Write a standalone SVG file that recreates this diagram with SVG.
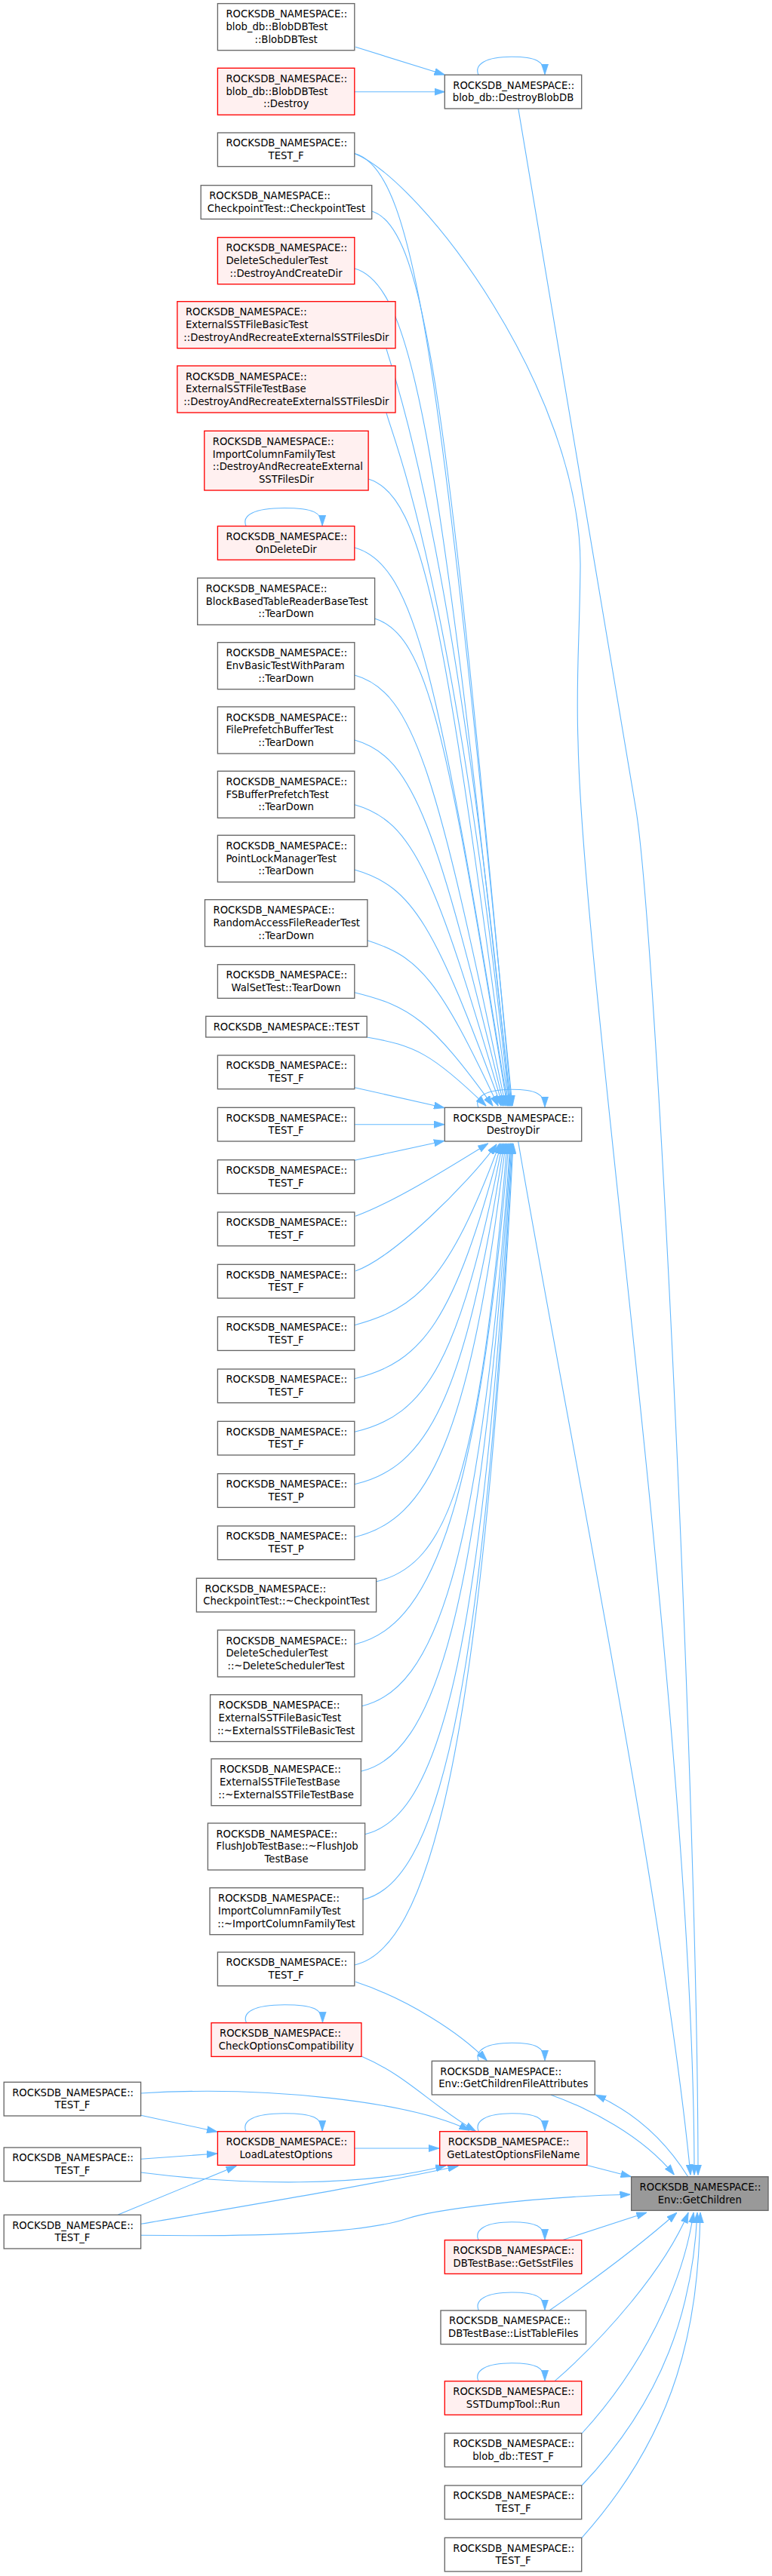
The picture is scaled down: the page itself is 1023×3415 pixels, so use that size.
<svg xmlns="http://www.w3.org/2000/svg" width="1023" height="3415" viewBox="0 0 1023 3415">
<style>
.n rect{fill:#fff;stroke:#666;stroke-width:1.33}
.r rect{fill:#fff0f0;stroke:#f00;stroke-width:1.33}
.g rect{fill:#999;stroke:#666;stroke-width:1.33}
text{font-family:"DejaVu Sans","Liberation Sans",sans-serif;font-size:13.2px;fill:#000}
.m{text-anchor:middle}
#edges path{fill:none;stroke:#63b8ff;stroke-width:1.1;marker-end:url(#a)}
</style>
<defs>
<marker id="a" viewBox="0 0 14 10" refX="13.5" refY="5" markerWidth="14" markerHeight="10" markerUnits="userSpaceOnUse" orient="auto"><path d="M0,0.4 L14,5 L0,9.6 Z" fill="#63b8ff" stroke="#63b8ff" stroke-width="0.8"/></marker>
</defs>
<rect width="1023" height="3415" fill="#fff"/>
<g id="edges">
<path d="M471,62.3 L589,99"/>
<path d="M469.8,121.7 L589,121.7"/>
<path d="M634,99.3 C628,85.3 644,75.3 678,75.3 C710,75.3 722,81.3 722,98.3"/>
<path d="M686.7,143.3 L842.7,1073 C870,1240 925,2400 925,2883"/>
<path d="M469.8,203.5 C560,240 770,520 769,750 C768,850 763,900 766,983 C772,1300 920,2300 920,2883"/>
<path d="M469.8,203.5 C553.5,225.5 584.9,506.5 679,1466"/>
<path d="M492.7,280 C566.8,302 594.6,564.6 678,1466"/>
<path d="M469.8,356 C552.7,378 583.8,622.4 677,1466"/>
<path d="M512,462.3 C522,500 602,703 676,1466"/>
<path d="M512,547.3 C522,585 601.7,767.8 675,1466"/>
<path d="M488.1,635 C562.5,657 590.3,834.4 674,1466"/>
<path d="M469.8,726 C551.1,748 581.6,903.6 673,1466"/>
<path d="M496.6,820 C566.8,842 593.1,975 672,1466"/>
<path d="M469.8,895 C549.9,917 579.9,1032 670,1466"/>
<path d="M469.8,981 C549.1,1003 578.8,1097.4 668,1466"/>
<path d="M469.8,1066.7 C548.3,1088.7 577.7,1162.5 666,1466"/>
<path d="M469.8,1153 C547.5,1175 576.6,1228 664,1466"/>
<path d="M486.9,1246.7 C556.1,1268.7 582.1,1299.3 660,1466"/>
<path d="M469.8,1315.7 C543.1,1333.7 570.6,1351.8 653,1466"/>
<path d="M486.2,1375 C549.3,1385.9 573,1396.8 644,1466"/>
<path d="M469.8,1441.7 L588.5,1468.5"/>
<path d="M469.8,1490.7 L588.5,1490.7"/>
<path d="M469.8,1538.3 L588.5,1512.5"/>
<path d="M471,1612.3 C521,1594 591.7,1550 646.7,1516"/>
<path d="M471,1685 C520,1668 620,1570 658,1517"/>
<path d="M469.8,1756.7 C551.6,1734.7 594.7,1698.9 662,1516"/>
<path d="M469.8,1827.7 C559.3,1805.7 601.8,1752.9 664,1516"/>
<path d="M469.8,1898.3 C564.8,1876.3 608.9,1806.5 666,1516"/>
<path d="M469.8,1967.7 C564.8,1945.7 616.1,1859.3 668,1516"/>
<path d="M469.8,2037.7 C564.8,2015.7 623.4,1912.5 670,1516"/>
<path d="M498.6,2096.7 C593.6,2074.7 635.9,1957.3 672,1516"/>
<path d="M469.8,2180 C564.8,2158 633.2,2020.6 674,1516"/>
<path d="M479.6,2261.7 C574.6,2239.7 636.7,2082.7 676,1516"/>
<path d="M478.3,2348.3 C573.3,2326.3 637.3,2148.5 677,1516"/>
<path d="M483.6,2431.7 C578.6,2409.7 639.1,2211.9 678,1516"/>
<path d="M481,2518.3 C576,2496.3 639.4,2277.7 679,1516"/>
<path d="M469.8,2605 C564.8,2583 638,2343.6 680,1516"/>
<path d="M634,1468.3 C628,1454.3 644,1444.3 678,1444.3 C710,1444.3 722,1450.3 722,1467.3"/>
<path d="M686.7,1513.3 C740,1830 880,2520 915,2883"/>
<path d="M326.1,697.5 C320,683.5 336,673.5 376.6,673.5 C415,673.5 427.1,679.5 427.1,696.5"/>
<path d="M326.5,2681.7 C320.5,2667.7 336.5,2657.7 377,2657.7 C415.5,2657.7 427.5,2663.7 427.5,2680.7"/>
<path d="M326.1,2825.7 C320,2811.7 336,2801.7 376.6,2801.7 C415,2801.7 427.1,2807.7 427.1,2824.7"/>
<path d="M634.3,2732.3 C628.3,2718.3 644.3,2708.3 678.3,2708.3 C710,2708.3 722,2714.3 722,2731.3"/>
<path d="M634.3,2825.7 C628.3,2811.7 644.3,2801.7 678.3,2801.7 C710,2801.7 722,2807.7 722,2824.7"/>
<path d="M634,2969.7 C628,2955.7 644,2945.7 678,2945.7 C710,2945.7 722,2951.7 722,2968.7"/>
<path d="M634.3,3063 C628.3,3049 644.3,3039 678.3,3039 C710,3039 722,3045 722,3062"/>
<path d="M634,3156.7 C628,3142.7 644,3132.7 678,3132.7 C710,3132.7 722,3138.7 722,3155.7"/>
<path d="M471,2627.3 C540,2650 610,2695 645,2731.5"/>
<path d="M478.9,2726 C540,2752 570,2790 630,2825"/>
<path d="M186.6,2775 C350,2765 540,2785 622,2824"/>
<path d="M186.6,2804.3 L287.5,2826"/>
<path d="M186.6,2862.3 L287.5,2855"/>
<path d="M156.6,2936 L313,2871.5"/>
<path d="M186.6,2880 C320,2897 480,2900 590.6,2871"/>
<path d="M186.6,2948.3 C350,2920 500,2895 607,2871.5"/>
<path d="M469.8,2848 L581.5,2848"/>
<path d="M730,2777.3 C780,2795 850,2830 893.3,2883"/>
<path d="M911.7,2885.7 C880,2835 840,2800 789.3,2777.3"/>
<path d="M777.9,2870.5 L836,2885.5"/>
<path d="M186.6,2963.3 C380,2966 490,2958 540,2941 C570,2930.8 700,2912 835,2909.3"/>
<path d="M745,2969.7 L856.7,2933.3"/>
<path d="M728,3063 C790,3020 850,2975 896.7,2933.5"/>
<path d="M735,3156.7 C800,3100 880,3010 912,2933.5"/>
<path d="M771,3226 C850,3140 905,3030 919,2933.5"/>
<path d="M771,3295 C880,3180 918,3060 924,2933.5"/>
<path d="M771,3364.3 C900,3220 925,3080 928,2933.5"/>
</g>
<g id="n1" class="n"><rect x="288.4" y="4.7" width="181.4" height="62"/><text x="299.4" y="23.4">ROCKSDB_NAMESPACE::</text><text x="299.4" y="40.1">blob_db::BlobDBTest</text><text class="m" x="379.1" y="56.8">::BlobDBTest</text></g>
<g id="n2" class="r"><rect x="288.4" y="90.3" width="181.4" height="62"/><text x="299.4" y="109">ROCKSDB_NAMESPACE::</text><text x="299.4" y="125.7">blob_db::BlobDBTest</text><text class="m" x="379.1" y="142.4">::Destroy</text></g>
<g id="n3" class="n"><rect x="288.4" y="176" width="181.4" height="44.7"/><text x="299.4" y="194.4">ROCKSDB_NAMESPACE::</text><text class="m" x="379.1" y="211.1">TEST_F</text></g>
<g id="n4" class="n"><rect x="266.2" y="245.7" width="226.5" height="44.7"/><text x="277.2" y="264.1">ROCKSDB_NAMESPACE::</text><text class="m" x="379.45" y="280.8">CheckpointTest::CheckpointTest</text></g>
<g id="n5" class="r"><rect x="288.4" y="314.7" width="181.4" height="62"/><text x="299.4" y="333.4">ROCKSDB_NAMESPACE::</text><text x="299.4" y="350.1">DeleteSchedulerTest</text><text class="m" x="379.1" y="366.8">::DestroyAndCreateDir</text></g>
<g id="n6" class="r"><rect x="234.9" y="399.7" width="289.1" height="62"/><text x="245.9" y="418.4">ROCKSDB_NAMESPACE::</text><text x="245.9" y="435.1">ExternalSSTFileBasicTest</text><text class="m" x="379.45" y="451.8">::DestroyAndRecreateExternalSSTFilesDir</text></g>
<g id="n7" class="r"><rect x="234.9" y="485" width="289.1" height="62"/><text x="245.9" y="503.7">ROCKSDB_NAMESPACE::</text><text x="245.9" y="520.4">ExternalSSTFileTestBase</text><text class="m" x="379.45" y="537.1">::DestroyAndRecreateExternalSSTFilesDir</text></g>
<g id="n8" class="r"><rect x="270.8" y="571.3" width="217.3" height="78.7"/><text x="281.8" y="590">ROCKSDB_NAMESPACE::</text><text x="281.8" y="606.7">ImportColumnFamilyTest</text><text x="281.8" y="623.4">::DestroyAndRecreateExternal</text><text class="m" x="379.45" y="640.1">SSTFilesDir</text></g>
<g id="n9" class="r"><rect x="288.4" y="697.5" width="181.4" height="44.7"/><text x="299.4" y="715.9">ROCKSDB_NAMESPACE::</text><text class="m" x="379.1" y="732.6">OnDeleteDir</text></g>
<g id="n10" class="n"><rect x="261.7" y="766.3" width="234.9" height="62"/><text x="272.7" y="785">ROCKSDB_NAMESPACE::</text><text x="272.7" y="801.7">BlockBasedTableReaderBaseTest</text><text class="m" x="379.15" y="818.4">::TearDown</text></g>
<g id="n11" class="n"><rect x="288.4" y="851.7" width="181.4" height="62"/><text x="299.4" y="870.4">ROCKSDB_NAMESPACE::</text><text x="299.4" y="887.1">EnvBasicTestWithParam</text><text class="m" x="379.1" y="903.8">::TearDown</text></g>
<g id="n12" class="n"><rect x="288.4" y="937" width="181.4" height="62"/><text x="299.4" y="955.7">ROCKSDB_NAMESPACE::</text><text x="299.4" y="972.4">FilePrefetchBufferTest</text><text class="m" x="379.1" y="989.1">::TearDown</text></g>
<g id="n13" class="n"><rect x="288.4" y="1022.3" width="181.4" height="62"/><text x="299.4" y="1041">ROCKSDB_NAMESPACE::</text><text x="299.4" y="1057.7">FSBufferPrefetchTest</text><text class="m" x="379.1" y="1074.4">::TearDown</text></g>
<g id="n14" class="n"><rect x="288.4" y="1107.3" width="181.4" height="62"/><text x="299.4" y="1126">ROCKSDB_NAMESPACE::</text><text x="299.4" y="1142.7">PointLockManagerTest</text><text class="m" x="379.1" y="1159.4">::TearDown</text></g>
<g id="n15" class="n"><rect x="271.5" y="1192.7" width="215.4" height="62"/><text x="282.5" y="1211.4">ROCKSDB_NAMESPACE::</text><text x="282.5" y="1228.1">RandomAccessFileReaderTest</text><text class="m" x="379.2" y="1244.8">::TearDown</text></g>
<g id="n16" class="n"><rect x="288.4" y="1278.7" width="181.4" height="44.7"/><text x="299.4" y="1297.1">ROCKSDB_NAMESPACE::</text><text class="m" x="379.1" y="1313.8">WalSetTest::TearDown</text></g>
<g id="n17" class="n"><rect x="272.8" y="1347.3" width="213.4" height="27.7"/><text class="m" x="379.5" y="1365.6">ROCKSDB_NAMESPACE::TEST</text></g>
<g id="n18" class="n"><rect x="288.4" y="1399" width="181.4" height="44.7"/><text x="299.4" y="1417.4">ROCKSDB_NAMESPACE::</text><text class="m" x="379.1" y="1434.1">TEST_F</text></g>
<g id="n19" class="n"><rect x="288.4" y="1468.3" width="181.4" height="44.7"/><text x="299.4" y="1486.7">ROCKSDB_NAMESPACE::</text><text class="m" x="379.1" y="1503.4">TEST_F</text></g>
<g id="n20" class="n"><rect x="288.4" y="1537.7" width="181.4" height="44.7"/><text x="299.4" y="1556.1">ROCKSDB_NAMESPACE::</text><text class="m" x="379.1" y="1572.8">TEST_F</text></g>
<g id="n21" class="n"><rect x="288.4" y="1607" width="181.4" height="44.7"/><text x="299.4" y="1625.4">ROCKSDB_NAMESPACE::</text><text class="m" x="379.1" y="1642.1">TEST_F</text></g>
<g id="n22" class="n"><rect x="288.4" y="1676.3" width="181.4" height="44.7"/><text x="299.4" y="1694.7">ROCKSDB_NAMESPACE::</text><text class="m" x="379.1" y="1711.4">TEST_F</text></g>
<g id="n23" class="n"><rect x="288.4" y="1745.7" width="181.4" height="44.7"/><text x="299.4" y="1764.1">ROCKSDB_NAMESPACE::</text><text class="m" x="379.1" y="1780.8">TEST_F</text></g>
<g id="n24" class="n"><rect x="288.4" y="1815" width="181.4" height="44.7"/><text x="299.4" y="1833.4">ROCKSDB_NAMESPACE::</text><text class="m" x="379.1" y="1850.1">TEST_F</text></g>
<g id="n25" class="n"><rect x="288.4" y="1884.3" width="181.4" height="44.7"/><text x="299.4" y="1902.7">ROCKSDB_NAMESPACE::</text><text class="m" x="379.1" y="1919.4">TEST_F</text></g>
<g id="n26" class="n"><rect x="288.4" y="1953.7" width="181.4" height="44.7"/><text x="299.4" y="1972.1">ROCKSDB_NAMESPACE::</text><text class="m" x="379.1" y="1988.8">TEST_P</text></g>
<g id="n27" class="n"><rect x="288.4" y="2023" width="181.4" height="44.7"/><text x="299.4" y="2041.4">ROCKSDB_NAMESPACE::</text><text class="m" x="379.1" y="2058.1">TEST_P</text></g>
<g id="n28" class="n"><rect x="260.4" y="2092.3" width="238.2" height="44.7"/><text x="271.4" y="2110.7">ROCKSDB_NAMESPACE::</text><text class="m" x="379.5" y="2127.4">CheckpointTest::~CheckpointTest</text></g>
<g id="n29" class="n"><rect x="288.4" y="2161" width="181.4" height="62"/><text x="299.4" y="2179.7">ROCKSDB_NAMESPACE::</text><text x="299.4" y="2196.4">DeleteSchedulerTest</text><text class="m" x="379.1" y="2213.1">::~DeleteSchedulerTest</text></g>
<g id="n30" class="n"><rect x="278.6" y="2246.7" width="201" height="62"/><text x="289.6" y="2265.4">ROCKSDB_NAMESPACE::</text><text x="289.6" y="2282.1">ExternalSSTFileBasicTest</text><text class="m" x="379.1" y="2298.8">::~ExternalSSTFileBasicTest</text></g>
<g id="n31" class="n"><rect x="280" y="2331.7" width="198.3" height="62"/><text x="291" y="2350.4">ROCKSDB_NAMESPACE::</text><text x="291" y="2367.1">ExternalSSTFileTestBase</text><text class="m" x="379.15" y="2383.8">::~ExternalSSTFileTestBase</text></g>
<g id="n32" class="n"><rect x="275.4" y="2417" width="208.2" height="62"/><text x="286.4" y="2435.7">ROCKSDB_NAMESPACE::</text><text x="286.4" y="2452.4">FlushJobTestBase::~FlushJob</text><text class="m" x="379.5" y="2469.1">TestBase</text></g>
<g id="n33" class="n"><rect x="278" y="2502.7" width="203" height="62"/><text x="289" y="2521.4">ROCKSDB_NAMESPACE::</text><text x="289" y="2538.1">ImportColumnFamilyTest</text><text class="m" x="379.5" y="2554.8">::~ImportColumnFamilyTest</text></g>
<g id="n34" class="n"><rect x="288.4" y="2588" width="181.4" height="44.7"/><text x="299.4" y="2606.4">ROCKSDB_NAMESPACE::</text><text class="m" x="379.1" y="2623.1">TEST_F</text></g>
<g id="n35" class="r"><rect x="280" y="2681.7" width="198.9" height="44.7"/><text x="291" y="2700.1">ROCKSDB_NAMESPACE::</text><text class="m" x="379.45" y="2716.8">CheckOptionsCompatibility</text></g>
<g id="n36" class="r"><rect x="288.4" y="2825.7" width="181.4" height="44.7"/><text x="299.4" y="2844.1">ROCKSDB_NAMESPACE::</text><text class="m" x="379.1" y="2860.8">LoadLatestOptions</text></g>
<g id="a1" class="n"><rect x="5.2" y="2760.3" width="181.4" height="44.7"/><text x="16.2" y="2778.7">ROCKSDB_NAMESPACE::</text><text class="m" x="95.9" y="2795.4">TEST_F</text></g>
<g id="a2" class="n"><rect x="5.2" y="2847" width="181.4" height="44.7"/><text x="16.2" y="2865.4">ROCKSDB_NAMESPACE::</text><text class="m" x="95.9" y="2882.1">TEST_F</text></g>
<g id="a3" class="n"><rect x="5.2" y="2936.3" width="181.4" height="44.7"/><text x="16.2" y="2954.7">ROCKSDB_NAMESPACE::</text><text class="m" x="95.9" y="2971.4">TEST_F</text></g>
<g id="c1" class="n"><rect x="589.3" y="99.3" width="181.4" height="44.7"/><text x="600.3" y="117.7">ROCKSDB_NAMESPACE::</text><text class="m" x="680" y="134.4">blob_db::DestroyBlobDB</text></g>
<g id="c2" class="n"><rect x="589.3" y="1468.3" width="181.4" height="44.7"/><text x="600.3" y="1486.7">ROCKSDB_NAMESPACE::</text><text class="m" x="680" y="1503.4">DestroyDir</text></g>
<g id="c3" class="n"><rect x="572.3" y="2732.3" width="216" height="44.7"/><text x="583.3" y="2750.7">ROCKSDB_NAMESPACE::</text><text class="m" x="680.3" y="2767.4">Env::GetChildrenFileAttributes</text></g>
<g id="c4" class="r"><rect x="582.7" y="2825.7" width="195.2" height="44.7"/><text x="593.7" y="2844.1">ROCKSDB_NAMESPACE::</text><text class="m" x="680.3" y="2860.8">GetLatestOptionsFileName</text></g>
<g id="c5" class="r"><rect x="589.3" y="2969.7" width="181.4" height="44.7"/><text x="600.3" y="2988.1">ROCKSDB_NAMESPACE::</text><text class="m" x="680" y="3004.8">DBTestBase::GetSstFiles</text></g>
<g id="c6" class="n"><rect x="584" y="3063" width="192.5" height="44.7"/><text x="595" y="3081.4">ROCKSDB_NAMESPACE::</text><text class="m" x="680.25" y="3098.1">DBTestBase::ListTableFiles</text></g>
<g id="c7" class="r"><rect x="589.3" y="3156.7" width="181.4" height="44.7"/><text x="600.3" y="3175.1">ROCKSDB_NAMESPACE::</text><text class="m" x="680" y="3191.8">SSTDumpTool::Run</text></g>
<g id="c8" class="n"><rect x="589.3" y="3225.7" width="181.4" height="44.7"/><text x="600.3" y="3244.1">ROCKSDB_NAMESPACE::</text><text class="m" x="680" y="3260.8">blob_db::TEST_F</text></g>
<g id="c9" class="n"><rect x="589.3" y="3295" width="181.4" height="44.7"/><text x="600.3" y="3313.4">ROCKSDB_NAMESPACE::</text><text class="m" x="680" y="3330.1">TEST_F</text></g>
<g id="c10" class="n"><rect x="589.3" y="3364.3" width="181.4" height="44.7"/><text x="600.3" y="3382.7">ROCKSDB_NAMESPACE::</text><text class="m" x="680" y="3399.4">TEST_F</text></g>
<g id="d1" class="g"><rect x="836.6" y="2885.7" width="181.4" height="44.7"/><text x="847.6" y="2904.1">ROCKSDB_NAMESPACE::</text><text class="m" x="927.3" y="2920.8">Env::GetChildren</text></g>
</svg>
